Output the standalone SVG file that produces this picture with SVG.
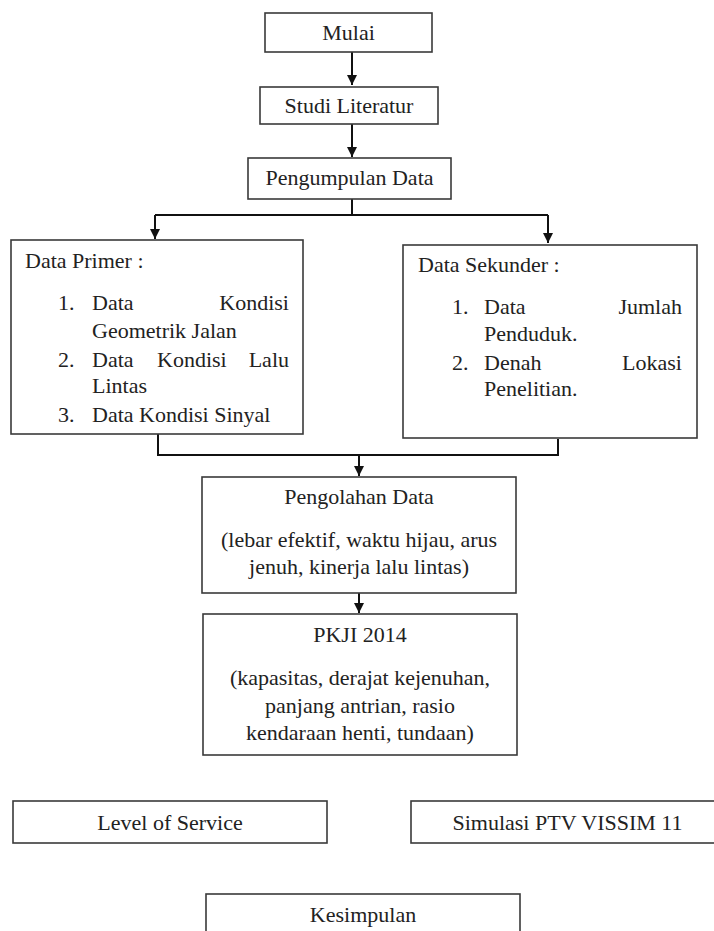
<svg xmlns="http://www.w3.org/2000/svg" width="714" height="931" viewBox="0 0 714 931">
<style>
.box{fill:#fff;stroke:#3a3a3a;stroke-width:1.6}
.t{font-family:"Liberation Serif","Times New Roman",serif;font-size:22px;fill:#222}
.c{text-anchor:middle}
.e{text-anchor:end}
.ln{fill:none;stroke:#111;stroke-width:2}
</style>
<defs>
<marker id="ah" markerUnits="userSpaceOnUse" markerWidth="11" markerHeight="11" refX="10" refY="5" orient="auto">
<path d="M0,0 L10,5 L0,10 z" fill="#111"/>
</marker>
</defs>
<rect width="714" height="931" fill="#fff"/>
<g id="connectors">
<path class="ln" d="M352 52 V85" marker-end="url(#ah)"/>
<path class="ln" d="M352 124 V157" marker-end="url(#ah)"/>
<path class="ln" d="M352 199 V215 M155 215 H548"/>
<path class="ln" d="M155 215 V239" marker-end="url(#ah)"/>
<path class="ln" d="M548 215 V243" marker-end="url(#ah)"/>
<path class="ln" d="M158 434 V455 H558 V439"/>
<path class="ln" d="M359 455 V476" marker-end="url(#ah)"/>
<path class="ln" d="M359 593 V613" marker-end="url(#ah)"/>
</g>
<g id="mulai"><rect class="box" x="265" y="13" width="167" height="39"/><text class="t c" x="348.5" y="40">Mulai</text></g>
<g id="studi"><rect class="box" x="260" y="87" width="178" height="37"/><text class="t c" x="349" y="113">Studi Literatur</text></g>
<g id="pengumpulan"><rect class="box" x="248" y="158" width="203" height="41"/><text class="t c" x="349.5" y="185">Pengumpulan Data</text></g>
<g id="primer">
<rect class="box" x="11" y="240" width="292" height="194"/>
<text class="t" x="25" y="268">Data Primer :</text>
<text class="t" x="58" y="310">1.</text><text class="t" x="92" y="310">Data</text><text class="t e" x="289" y="310">Kondisi</text>
<text class="t" x="92" y="338">Geometrik Jalan</text>
<text class="t" x="58" y="367">2.</text><text class="t" x="92" y="367">Data</text><text class="t" x="157" y="367">Kondisi</text><text class="t e" x="289" y="367">Lalu</text>
<text class="t" x="92" y="393">Lintas</text>
<text class="t" x="58" y="422">3.</text><text class="t" x="92" y="422">Data Kondisi Sinyal</text>
</g>
<g id="sekunder">
<rect class="box" x="403" y="245" width="294" height="193"/>
<text class="t" x="418" y="272">Data Sekunder :</text>
<text class="t" x="452" y="314">1.</text><text class="t" x="484" y="314">Data</text><text class="t e" x="682" y="314">Jumlah</text>
<text class="t" x="484" y="341">Penduduk.</text>
<text class="t" x="452" y="370">2.</text><text class="t" x="484" y="370">Denah</text><text class="t e" x="682" y="370">Lokasi</text>
<text class="t" x="484" y="396">Penelitian.</text>
</g>
<g id="pengolahan">
<rect class="box" x="202" y="477" width="314" height="116"/>
<text class="t c" x="359" y="504">Pengolahan Data</text>
<text class="t c" x="359" y="547">(lebar efektif, waktu hijau, arus</text>
<text class="t c" x="359" y="574">jenuh, kinerja lalu lintas)</text>
</g>
<g id="pkji">
<rect class="box" x="203" y="614" width="314" height="141"/>
<text class="t c" x="360" y="642">PKJI 2014</text>
<text class="t c" x="360" y="685">(kapasitas, derajat kejenuhan,</text>
<text class="t c" x="360" y="713">panjang antrian, rasio</text>
<text class="t c" x="360" y="740">kendaraan henti, tundaan)</text>
</g>
<g id="los"><rect class="box" x="13" y="801" width="314" height="42"/><text class="t c" x="170" y="830">Level of Service</text></g>
<g id="vissim"><rect class="box" x="411" y="801" width="320" height="42"/><text class="t c" x="567.5" y="830">Simulasi PTV VISSIM 11</text></g>
<g id="kesimpulan"><rect class="box" x="206" y="894" width="314" height="50"/><text class="t c" x="363" y="922">Kesimpulan</text></g>
</svg>
